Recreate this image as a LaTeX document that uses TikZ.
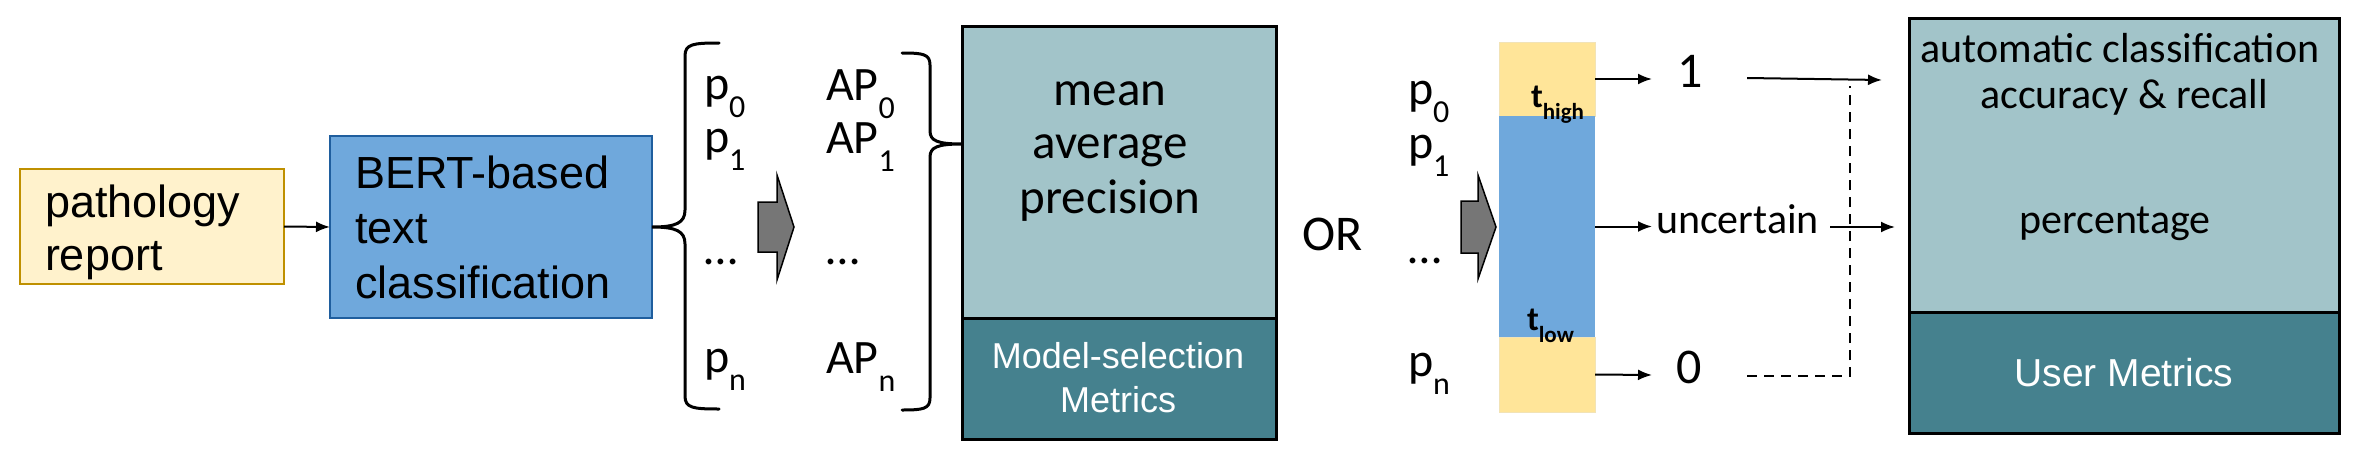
\documentclass[tikz,border=0pt]{standalone}
\usepackage{fontspec}
\setmainfont{Carlito}
\newfontfamily\arialf{Liberation Sans}
\usetikzlibrary{arrows.meta}
\definecolor{pfill}{HTML}{FFF2CC}
\definecolor{pdraw}{HTML}{BF9000}
\definecolor{bfill}{HTML}{6FA8DC}
\definecolor{bdraw}{HTML}{1F5E9E}
\definecolor{tlight}{HTML}{A2C4C9}
\definecolor{tdark}{HTML}{45818E}
\definecolor{yel}{HTML}{FFE599}
\definecolor{ybord}{HTML}{F2E3B6}
\definecolor{garr}{HTML}{767676}
\newcommand\fsz[1]{\fontsize{#1}{#1}\selectfont}
\newcommand\subtxt[1]{\raisebox{-18pt}{\fsz{32}#1}}
\newcommand\tsub[1]{\raisebox{-12pt}{\fsz{23}#1}}
\begin{document}
\begin{tikzpicture}[x=1pt,y=-1pt,
  every node/.style={inner sep=0pt, outer sep=0pt},
  arr/.style={line width=2pt, -{Latex[length=14pt,width=11pt]}},
  bracepath/.style={line width=3pt, line cap=round},
  boxln/.style={draw=black, line width=3pt},
  grayarrow/.style={fill=garr, draw=black, line width=1.5pt, line join=miter},
  ariall/.style={font=\arialf\fsz{45}, anchor=base west},
  cal/.style={font=\fsz{48}, anchor=base west},
  midtxt/.style={font=\fsz{49}, anchor=base},
  rtxt/.style={font=\fsz{42}, anchor=base},
  big/.style={font=\fsz{50}, anchor=base},
  tlab/.style={font=\bfseries\fsz{34}, anchor=base west}]
\useasboundingbox (0,0) rectangle (2360,450);
\fill[white] (0,0) rectangle (2360,450);

% pathology report
\node[draw=pdraw, fill=pfill, line width=2.5pt, minimum width=264pt, minimum height=115pt] (path) at (152,226.5) {};
\node[ariall] (pr1) at (45,217) {pathology};
\node[ariall] (pr2) at (45,270) {report};

% BERT
\node[draw=bdraw, fill=bfill, line width=2.5pt, minimum width=322pt, minimum height=182pt] (bert) at (491,227) {};
\node[ariall] (bt1) at (355,188) {BERT-based};
\node[ariall] (bt2) at (355,243) {text};
\node[ariall] (bt3) at (355,298) {classification};

\draw[arr] (path.east) -- (bert.west);

% left brace
\draw[bracepath] (719,43) .. controls (693,43) and (685,44) .. (685,56) -- (685,210)
  .. controls (685,223) and (676,227) .. (bert.east)
  .. controls (676,227) and (685,231) .. (685,244) -- (685,396)
  .. controls (685,408) and (693,409) .. (719,409);

% p column 1
\node[cal] (pa0) at (704,99) {p\subtxt{0}};
\node[cal] (pa1) at (704,152) {p\subtxt{1}};
\node[cal] (pad) at (704,264) {…};
\node[cal] (pan) at (704,372) {p\subtxt{n}};
% AP column
\node[cal] (ap0) at (826,100) {AP\subtxt{0}};
\node[cal] (ap1) at (826,153) {AP\subtxt{1}};
\node[cal] (apd) at (826,264) {…};
\node[cal] (apn) at (826,373) {AP\subtxt{n}};

% gray block arrow 1
\draw[grayarrow] (758,202) -- (777,202) -- (777,175) -- (794,227) -- (777,280) -- (777,252) -- (758,252) -- cycle;

% mean average precision box
\node[fill=tlight, minimum width=314pt, minimum height=292pt] (mtop) at (1119,172) {};
\node[fill=tdark, minimum width=314pt, minimum height=121pt] (mbot) at (1119,378.5) {};
\draw[boxln] (mtop.north west) rectangle (mbot.south east);
\draw[boxln] (mtop.south west) -- (mtop.south east);
\node[midtxt] (mt1) at (1110,105) {mean};
\node[midtxt] (mt2) at (1110,158) {average};
\node[midtxt] (mt3) at (1110,213) {precision};
\node[font=\arialf\fsz{36}, text=white, anchor=base] (ms1) at (1118,368) {Model-selection};
\node[font=\arialf\fsz{36}, text=white, anchor=base] (ms2) at (1118,412) {Metrics};

% right brace
\coordinate (rtip) at (mtop.west |- 0,144);
\draw[bracepath] (902,53) .. controls (923,53) and (930,54) .. (930,65) -- (930,131)
  .. controls (930,141) and (938,144) .. (rtip)
  .. controls (938,144) and (930,147) .. (930,157) -- (930,398)
  .. controls (930,409) and (923,410) .. (902,410);

% OR
\node[big, anchor=base west] (or) at (1302,250) {OR};

% p column 2
\node[cal] (pb0) at (1408,104) {p\subtxt{0}};
\node[cal] (pb1) at (1408,158) {p\subtxt{1}};
\node[cal] (pbd) at (1408,263) {…};
\node[cal] (pbn) at (1408,376) {p\subtxt{n}};

% gray block arrow 2
\draw[grayarrow] (1461,201) -- (1478,201) -- (1478,175) -- (1496,227) -- (1478,279) -- (1478,253) -- (1461,253) -- cycle;

% threshold bar
\node[fill=yel, draw=ybord, line width=1pt, minimum width=96pt, minimum height=74pt] (ytop) at (1547,79) {};
\node[fill=bfill, minimum width=96pt, minimum height=221pt] (bar) at (1547,226.5) {};
\node[fill=yel, draw=ybord, line width=1pt, minimum width=96pt, minimum height=75pt] (ybot) at (1547,374.5) {};
\node[tlab] (th) at (1531,107) {t\tsub{high}};
\node[tlab] (tl) at (1527,330) {t\tsub{low}};

% outputs
\node[big] (one) at (1690,87) {1};
\node[rtxt, anchor=base west] (unc) at (1656,233) {uncertain};
\node[big] (zero) at (1689,383) {0};

\coordinate (e1) at (1652,79);
\coordinate (e2) at (1652,226.5);
\coordinate (e3) at (1652,375);
\draw[arr] (ytop.east) -- (e1);
\draw[arr] (bar.east) -- (e2);
\draw[arr] (ybot.east) -- (e3);

% right box
\node[fill=tlight, minimum width=430pt, minimum height=294pt] (rtop) at (2124,165) {};
\node[fill=tdark, minimum width=430pt, minimum height=121pt] (rbot) at (2124,372.5) {};
\draw[boxln] (rtop.north west) rectangle (rbot.south east);
\draw[boxln] (rtop.south west) -- (rtop.south east);
\node[rtxt] (rt1) at (2120,62) {automatic classification};
\node[rtxt] (rt2) at (2124,108) {accuracy \& recall};
\node[rtxt] (rt3) at (2115,233) {percentage};
\node[font=\arialf\fsz{39}, text=white, anchor=base] (um) at (2124,386) {User Metrics};

% connectors to right box
\coordinate (s1) at (1747,78);
\coordinate (t1) at (1882,80);
\coordinate (s2) at (1830,227);
\coordinate (t2) at (1895,227);
\coordinate (s3) at (1747,376);
\coordinate (c3) at (1850,376);
\coordinate (t3) at (1850,86);
\draw[arr] (s1) -- (t1);
\draw[arr] (s2) -- (t2);
\draw[line width=2pt, dash pattern=on 10pt off 7pt] (s3) -- (c3) -- (t3);
\end{tikzpicture}
\end{document}
